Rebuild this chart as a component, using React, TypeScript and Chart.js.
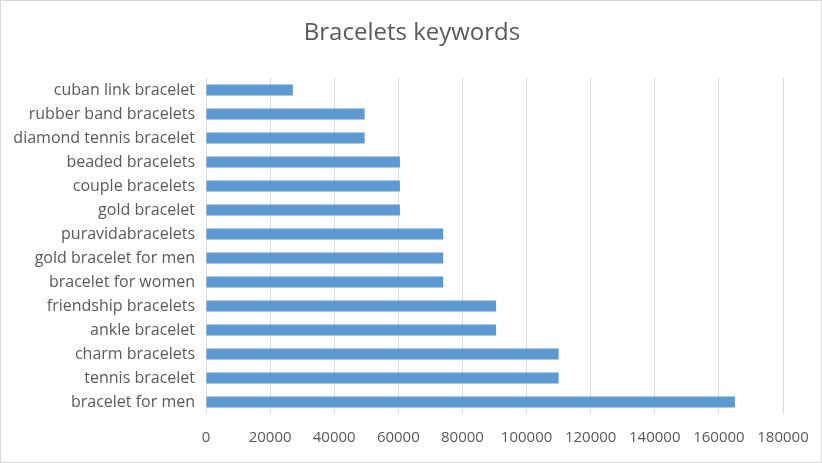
import React, { useEffect, useRef } from "react";
import { Chart, registerables } from "chart.js";

Chart.register(...registerables);

const categories = [
  "cuban link bracelet",
  "rubber band bracelets",
  "diamond tennis bracelet",
  "beaded bracelets",
  "couple bracelets",
  "gold bracelet",
  "puravidabracelets",
  "gold bracelet for men",
  "bracelet for women",
  "friendship bracelets",
  "ankle bracelet",
  "charm bracelets",
  "tennis bracelet",
  "bracelet for men",
];

const searchVolume = [
  27100, 49500, 49500, 60500, 60500, 60500, 74000, 74000, 74000, 90500, 90500,
  110000, 110000, 165000,
];

const xTicks = [0, 20000, 40000, 60000, 80000, 100000, 120000, 140000, 160000, 180000];

const titleText = "Bracelets keywords";

const textColor = "#595959";
const font = "'Open Sans', Lato, sans-serif";

const centeredTitle = {
  id: "centeredTitle",
  afterDraw(chart: any) {
    const ctx = chart.ctx;
    ctx.save();
    ctx.fillStyle = textColor;
    ctx.font = `24px ${font}`;
    ctx.textAlign = "center";
    ctx.textBaseline = "middle";
    ctx.fillText(titleText, chart.width / 2 + 1, 32);
    ctx.restore();
  },
};

export default function App() {
  const ref = useRef<HTMLCanvasElement | null>(null);

  useEffect(() => {
    document.body.style.margin = "0";
    const canvas = ref.current;
    if (!canvas) return;
    const chart = new Chart(canvas, {
      type: "bar",
      data: {
        labels: categories,
        datasets: [
          {
            data: searchVolume,
            backgroundColor: "#5b9bd5",
            borderWidth: 0,
            barPercentage: 0.46,
            categoryPercentage: 1,
          },
        ],
      },
      plugins: [centeredTitle],
      options: {
        indexAxis: "y",
        animation: false,
        responsive: false,
        maintainAspectRatio: false,
        layout: { padding: { left: 0, right: 38, top: 77, bottom: 0 } },
        plugins: {
          legend: { display: false },
          tooltip: { enabled: false },
          title: { display: false },
        },
        scales: {
          x: {
            min: 0,
            max: 180000,
            afterBuildTicks: (scale: any) => {
              scale.ticks = xTicks.map((v) => ({ value: v }));
            },
            afterFit: (scale: any) => {
              scale.height = 48;
              scale.paddingRight = 0;
              scale.paddingLeft = 0;
            },
            ticks: {
              color: textColor,
              font: { family: font, size: 15 },
              padding: 15,
              maxRotation: 0,
              callback: (v: any) => String(v),
            },
            grid: {
              color: "#d9d9d9",
              lineWidth: 1,
              drawTicks: false,
            },
            border: { display: false },
          },
          y: {
            afterFit: (scale: any) => {
              scale.width = 205;
              scale.paddingTop = 0;
              scale.paddingBottom = 0;
            },
            ticks: {
              color: textColor,
              font: { family: font, size: 16 },
              padding: 11,
            },
            grid: { display: false, drawTicks: false },
            border: { display: false },
          },
        },
      },
    });
    return () => chart.destroy();
  }, []);

  return (
    <div
      style={{
        position: "absolute",
        left: 0,
        top: 0,
        width: 822,
        height: 463,
        boxSizing: "border-box",
        border: "1px solid #d9d9d9",
        background: "#ffffff",
      }}
    >
      <canvas ref={ref} width={820} height={461} style={{ display: "block" }} />
    </div>
  );
}
